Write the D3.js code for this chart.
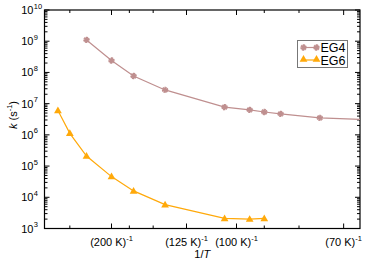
<!DOCTYPE html>
<html>
<head>
<meta charset="utf-8">
<script src="https://cdn.jsdelivr.net/npm/d3@7"></script>
<style>
  body { margin: 0; background: #fff; }
  svg { font-family: "Liberation Sans", Arial, sans-serif; }
</style>
</head>
<body>
<svg width="366" height="262"></svg>
<script>
// temperatures (K) and rate constants (s^-1)
const tempEG4 = [250, 200, 170, 140, 105, 95, 90, 85, 75, 60];
const rateEG4 = [1.1e9, 2.4e8, 7.7e7, 2.75e7, 7.7e6, 6.3e6, 5.4e6, 4.7e6, 3.5e6, 2.8e6];
const tempEG6 = [350, 300, 250, 200, 170, 140, 105, 95, 90];
const rateEG6 = [6.0e6, 1.12e6, 2.1e5, 4.6e4, 1.6e4, 5.8e3, 2.1e3, 2.0e3, 2.1e3];

const majorTemps = [200, 125, 100, 70];
const minorTemps = [300, 175, 150, 90, 80];
const decades = [3, 4, 5, 6, 7, 8, 9, 10];

const colEG4 = "#bf8f8f";
const colEG6 = "#ffa90a";

const svg = d3.select("svg");
const pL = 44.5, pR = 360, pT = 10, pB = 228.5;

const x = d3.scaleLinear().domain([0.00232, 0.01494]).range([pL, pR]);
const y = d3.scaleLog().domain([1e3, 1e10]).range([pB, pT]);

// clip for the data
svg.append("clipPath").attr("id", "plotclip")
  .append("rect")
  .attr("x", pL).attr("y", pT)
  .attr("width", pR - pL).attr("height", pB - pT);

// frame
svg.append("rect")
  .attr("x", pL).attr("y", pT)
  .attr("width", pR - pL).attr("height", pB - pT)
  .attr("fill", "none").attr("stroke", "#000").attr("stroke-width", 1.2);

// y ticks (both sides, inward)
let yMinor = [];
decades.slice(0, -1).forEach(d => {
  for (let m = 2; m <= 9; m++) yMinor.push(m * Math.pow(10, d));
});
const ticks = svg.append("g").attr("stroke", "#000").attr("stroke-width", 1);
decades.forEach(d => {
  const yy = y(Math.pow(10, d));
  ticks.append("line").attr("x1", pL).attr("x2", pL + 5).attr("y1", yy).attr("y2", yy);
  ticks.append("line").attr("x1", pR).attr("x2", pR - 5).attr("y1", yy).attr("y2", yy);
});
yMinor.forEach(v => {
  const yy = y(v);
  ticks.append("line").attr("x1", pL).attr("x2", pL + 3).attr("y1", yy).attr("y2", yy);
  ticks.append("line").attr("x1", pR).attr("x2", pR - 3).attr("y1", yy).attr("y2", yy);
});

// x ticks (both sides, inward)
majorTemps.forEach(t => {
  const xx = x(1 / t);
  ticks.append("line").attr("x1", xx).attr("x2", xx).attr("y1", pB).attr("y2", pB - 5);
  ticks.append("line").attr("x1", xx).attr("x2", xx).attr("y1", pT).attr("y2", pT + 5);
});
minorTemps.forEach(t => {
  const xx = x(1 / t);
  ticks.append("line").attr("x1", xx).attr("x2", xx).attr("y1", pB).attr("y2", pB - 3);
  ticks.append("line").attr("x1", xx).attr("x2", xx).attr("y1", pT).attr("y2", pT + 3);
});

// y tick labels
decades.forEach(d => {
  const yy = y(Math.pow(10, d));
  svg.append("text").attr("x", 33.5).attr("y", yy + 4)
    .attr("text-anchor", "end").attr("font-size", 11).text("10");
  svg.append("text").attr("x", 33.8).attr("y", yy - 1.5)
    .attr("font-size", 7.5).text(d);
});

// x tick labels
majorTemps.forEach(t => {
  const lab = svg.append("text").attr("x", x(1 / t)).attr("y", 245.5)
    .attr("text-anchor", "middle").attr("font-size", 11);
  lab.append("tspan").text("(" + t + " K)");
  lab.append("tspan").attr("dy", -5).attr("font-size", 7.5).text("-1");
});

// axis titles
const xt = svg.append("text").attr("x", (pL + pR) / 2).attr("y", 257.5)
  .attr("text-anchor", "middle").attr("font-size", 11);
xt.append("tspan").text("1/");
xt.append("tspan").attr("font-style", "italic").text("T");

const yt = svg.append("text").attr("transform", "translate(16.5,115) rotate(-90)")
  .attr("text-anchor", "middle").attr("font-size", 11);
yt.append("tspan").attr("font-style", "italic").text("k");
yt.append("tspan").text(" (s");
yt.append("tspan").attr("dy", -5).attr("font-size", 7.5).text("-1");
yt.append("tspan").attr("dy", 5).text(")");

// series
const line = d3.line().x(d => x(1 / d[0])).y(d => y(d[1]));
const data4 = d3.zip(tempEG4, rateEG4);
const data6 = d3.zip(tempEG6, rateEG6);

const plot = svg.append("g").attr("clip-path", "url(#plotclip)");

function starMarker(g, cx, cy) {
  g.append("path").attr("d", d3.symbol(d3.symbolAsterisk, 28)())
    .attr("transform", `translate(${cx},${cy}) rotate(22.5)`)
    .attr("stroke", colEG4).attr("stroke-width", 1.3).attr("fill", "none");
  g.append("path").attr("d", d3.symbol(d3.symbolAsterisk, 28)())
    .attr("transform", `translate(${cx},${cy})`)
    .attr("stroke", colEG4).attr("stroke-width", 1.3).attr("fill", "none");
  g.append("circle").attr("cx", cx).attr("cy", cy).attr("r", 1.8).attr("fill", colEG4);
}
function triMarker(g, cx, cy) {
  g.append("path").attr("d", d3.symbol(d3.symbolTriangle, 26)())
    .attr("transform", `translate(${cx},${cy + 0.5})`)
    .attr("fill", colEG6);
}

plot.append("path").datum(data4).attr("d", line)
  .attr("fill", "none").attr("stroke", colEG4).attr("stroke-width", 1.2);
data4.forEach(d => starMarker(plot, x(1 / d[0]), y(d[1])));

plot.append("path").datum(data6).attr("d", line)
  .attr("fill", "none").attr("stroke", colEG6).attr("stroke-width", 1.2);
data6.forEach(d => triMarker(plot, x(1 / d[0]), y(d[1])));

// legend
const lg = svg.append("g");
lg.append("rect").attr("x", 297.5).attr("y", 40.5).attr("width", 50).attr("height", 27)
  .attr("fill", "#fff").attr("stroke", "#777").attr("stroke-width", 1);
lg.append("line").attr("x1", 302).attr("x2", 318).attr("y1", 47.5).attr("y2", 47.5)
  .attr("stroke", colEG4).attr("stroke-width", 1.2);
starMarker(lg, 303.5, 47.5);
starMarker(lg, 316.5, 47.5);
lg.append("line").attr("x1", 302).attr("x2", 318).attr("y1", 60).attr("y2", 60)
  .attr("stroke", colEG6).attr("stroke-width", 1.2);
triMarker(lg, 303.5, 59);
triMarker(lg, 316.5, 59);
lg.append("text").attr("x", 320.5).attr("y", 52).attr("font-size", 12.5).text("EG4");
lg.append("text").attr("x", 320.5).attr("y", 64.5).attr("font-size", 12.5).text("EG6");
</script>
</body>
</html>
